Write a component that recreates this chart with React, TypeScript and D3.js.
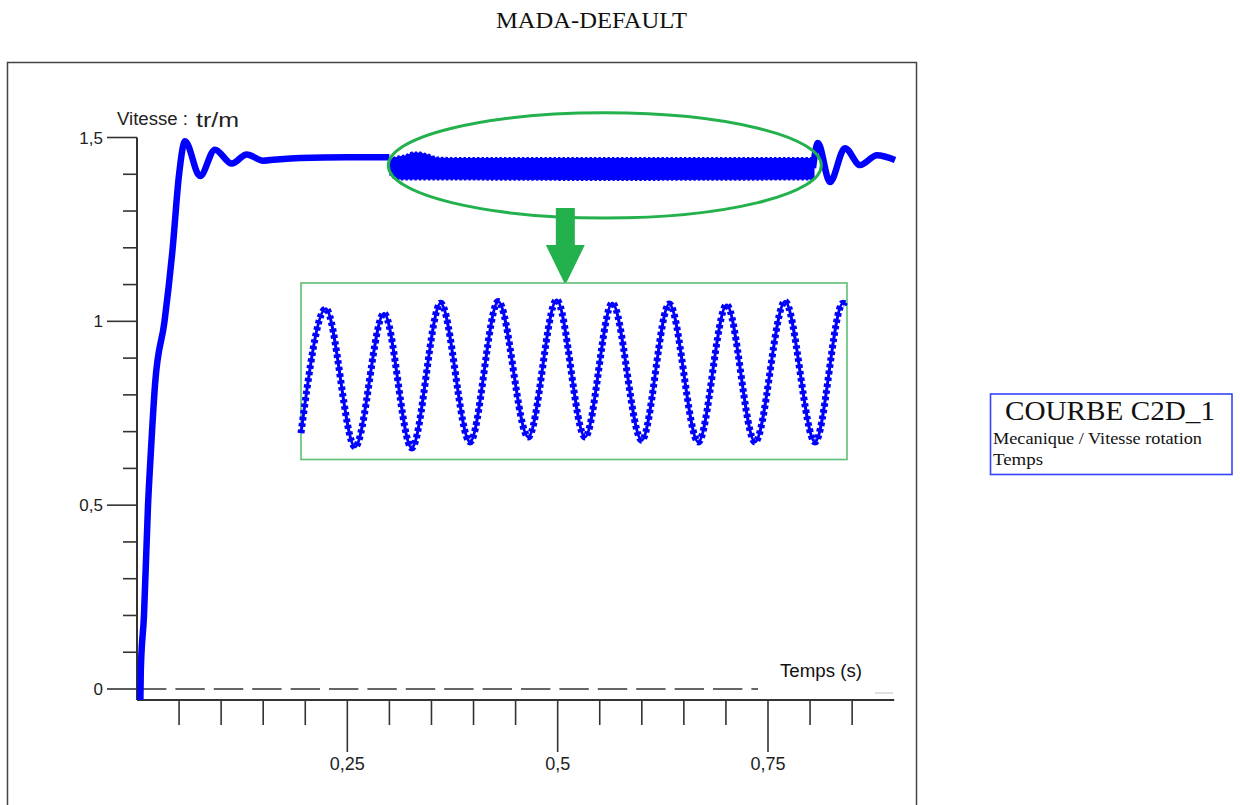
import React from "react";
import * as d3 from "d3";

// ---------- data ----------
const chartTitle = "MADA-DEFAULT";

// speed response (s, tr/m) : start-up and settling, up to the start of the disturbance
const mainT = [0.004, 0.0045, 0.0083, 0.0131, 0.0166, 0.0215, 0.0327, 0.0422, 0.05, 0.0571, 0.0749, 0.0927, 0.1126, 0.1304, 0.1498, 0.17, 0.194, 0.25, 0.3];
const mainV = [-0.03, 0.05, 0.2, 0.5, 0.65, 0.83, 1.0, 1.194, 1.4, 1.49, 1.395, 1.467, 1.429, 1.454, 1.437, 1.441, 1.444, 1.446, 1.446];

// dense oscillation band (envelope) during the disturbance
const bandT = [0.3, 0.3019, 0.3102, 0.3186, 0.3269, 0.3364, 0.3459, 0.3554, 0.372, 0.5503, 0.8023, 0.8047];
const bandUpper = [1.446, 1.4415, 1.447, 1.4497, 1.4578, 1.4578, 1.4524, 1.4442, 1.4429, 1.4429, 1.4429, 1.4429];
const bandLower = [1.44, 1.3953, 1.3871, 1.3871, 1.3871, 1.3871, 1.3871, 1.3871, 1.3871, 1.3857, 1.3871, 1.39];

// after the disturbance
const tailT = [0.8035, 0.8093, 0.8236, 0.8415, 0.8594, 0.8796, 0.901];
const tailV = [1.417, 1.485, 1.379, 1.471, 1.425, 1.452, 1.439];

// zoomed detail (inset)
const insetT = [0.5, 0.50215, 0.5047, 0.50722, 0.50963, 0.51215, 0.5147, 0.51716, 0.51977, 0.52224, 0.52471, 0.52708, 0.52964, 0.53204, 0.53456, 0.53703, 0.5395, 0.54211, 0.54472, 0.54715, 0.5475];
const insetV = [1.4026, 1.4377, 1.3987, 1.4364, 1.3984, 1.4393, 1.4001, 1.4398, 1.4015, 1.4402, 1.4015, 1.4393, 1.4006, 1.4391, 1.4001, 1.4388, 1.4001, 1.4398, 1.4001, 1.4393, 1.4388];

// axes
const yMajorTicks = [0, 0.5, 1, 1.5];
const yMajorLabels = ["0", "0,5", "1", "1,5"];
const yMinorTicks = [0.1, 0.2, 0.3, 0.4, 0.6, 0.7, 0.8, 0.9, 1.1, 1.2, 1.3, 1.4];
const xMajorTicks = [0.25, 0.5, 0.75];
const xMajorLabels = ["0,25", "0,5", "0,75"];
const xMinorTicks = [0.05, 0.1, 0.15, 0.2, 0.3, 0.35, 0.4, 0.45, 0.55, 0.6, 0.65, 0.7, 0.8, 0.85];

const yAxisLabel = "Vitesse :";
const yAxisUnit = "tr/m";
const xAxisLabel = "Temps (s)";
const legendTitle = "COURBE C2D_1";
const legendLine1 = "Mecanique / Vitesse rotation";
const legendLine2 = "Temps";

// ---------- layout ----------
const W = 1240;
const H = 805;
const BLUE = "#0000ff";
const GREEN = "#22b14c";
const AXIS = "#333";

export default function App() {
  const x = d3.scaleLinear().domain([0, 0.9]).range([137, 894.2]);
  const y = d3.scaleLinear().domain([0, 1.5]).range([689, 137.5]);

  const line = d3
    .line<number>()
    .x((_, i) => x(mainT[i]))
    .y((d) => y(d))
    .curve(d3.curveMonotoneX);
  const tailLine = d3
    .line<number>()
    .x((_, i) => x(tailT[i]))
    .y((d) => y(d))
    .curve(d3.curveMonotoneX);
  const band = d3
    .area<number>()
    .x((_, i) => x(bandT[i]))
    .y0((_, i) => y(bandLower[i]))
    .y1((d) => y(d))
    .curve(d3.curveLinear);
  const bandEdgeUp = d3
    .line<number>()
    .x((_, i) => x(bandT[i]))
    .y((d) => y(d));
  const bandEdgeLow = d3
    .line<number>()
    .x((_, i) => x(bandT[i]))
    .y((d) => y(d));

  // inset panel
  const inset = { x0: 301, x1: 847, y0: 283, y1: 459.5 };
  const ix = d3.scaleLinear().domain([0.5, 0.5475]).range([inset.x0, inset.x1]);
  const iy = d3.scaleLinear().domain([1.395, 1.445]).range([460, 283]);
  const insetPath = d3
    .line<number>()
    .x((_, i) => ix(insetT[i]))
    .y((d) => iy(d))
    .curve(d3.curveMonotoneX)(insetV) as string;

  // highlight ellipse in data coordinates
  const ex0 = x(0.2987), ex1 = x(0.8134);
  const ey0 = y(1.567), ey1 = y(1.281);
  const ecx = (ex0 + ex1) / 2, ecy = (ey0 + ey1) / 2;

  const arrowX = (ex0 + ex1) / 2 - 39.5;

  const sans = "'Liberation Sans', Arial, sans-serif";
  const serif = "'Liberation Serif', 'Times New Roman', serif";

  return (
    <svg
      width={W}
      height={H}
      style={{ position: "absolute", left: 0, top: 0, display: "block", background: "#fff" }}
    >
      <rect x={0} y={0} width={W} height={H} fill="#fff" />
      {/* title */}
      <text x={591.5} y={28} textAnchor="middle" fontFamily={serif} fontSize={24} fill="#111" textLength={191} lengthAdjust="spacingAndGlyphs">
        {chartTitle}
      </text>

      {/* frame */}
      <rect x={7.5} y={62.5} width={909} height={780} fill="none" stroke="#444" strokeWidth={1.5} />

      {/* y axis */}
      <line x1={137} x2={137} y1={y(1.5)} y2={700} stroke={AXIS} strokeWidth={2} />
      {yMinorTicks.map((t) => (
        <line key={"ym" + t} x1={123} x2={137} y1={y(t)} y2={y(t)} stroke={AXIS} strokeWidth={1.6} />
      ))}
      {yMajorTicks.map((t, i) => (
        <g key={"yM" + t}>
          <line x1={107} x2={137} y1={y(t)} y2={y(t)} stroke={AXIS} strokeWidth={1.6} />
          <text x={103} y={y(t) + 6} textAnchor="end" fontFamily={sans} fontSize={17} fill="#222">
            {yMajorLabels[i]}
          </text>
        </g>
      ))}

      {/* x axis */}
      <line x1={137} x2={894.2} y1={700} y2={700} stroke={AXIS} strokeWidth={2} />
      {xMinorTicks.map((t) => (
        <line key={"xm" + t} x1={x(t)} x2={x(t)} y1={700} y2={725} stroke={AXIS} strokeWidth={1.6} />
      ))}
      {xMajorTicks.map((t, i) => (
        <g key={"xM" + t}>
          <line x1={x(t)} x2={x(t)} y1={700} y2={752} stroke={AXIS} strokeWidth={1.6} />
          <text x={x(t)} y={770} textAnchor="middle" fontFamily={sans} fontSize={18} fill="#222">
            {xMajorLabels[i]}
          </text>
        </g>
      ))}

      {/* zero dashed line */}
      <line x1={137} x2={758} y1={y(0)} y2={y(0)} stroke={AXIS} strokeWidth={1.6} strokeDasharray="29.4 9" />
      <line x1={875} x2={893} y1={693} y2={693} stroke="#ccc" strokeWidth={1.2} />

      {/* axis titles */}
      <text x={117} y={125} fontFamily={sans} fontSize={18} fill="#222" textLength={71} lengthAdjust="spacingAndGlyphs">
        {yAxisLabel}
      </text>
      <text x={196} y={127} fontFamily={sans} fontSize={21} fill="#222" textLength={43} lengthAdjust="spacingAndGlyphs">
        {yAxisUnit}
      </text>
      <text x={780} y={677} fontFamily={sans} fontSize={18} fill="#111" textLength={82} lengthAdjust="spacingAndGlyphs">
        {xAxisLabel}
      </text>

      {/* curve */}
      <path d={band(bandUpper) as string} fill={BLUE} stroke={BLUE} strokeWidth={1} />
      <path d={bandEdgeUp(bandUpper) as string} fill="none" stroke={BLUE} strokeWidth={3} strokeDasharray="2.5 2" />
      <path d={bandEdgeLow(bandLower) as string} fill="none" stroke={BLUE} strokeWidth={3} strokeDasharray="2.5 2" />
      <path d={line(mainV) as string} fill="none" stroke={BLUE} strokeWidth={6.5} strokeLinejoin="round" />
      <path d={tailLine(tailV) as string} fill="none" stroke={BLUE} strokeWidth={6.5} strokeLinejoin="round" />

      {/* highlight ellipse + arrow */}
      <ellipse cx={ecx} cy={ecy} rx={(ex1 - ex0) / 2} ry={(ey1 - ey0) / 2} fill="none" stroke={GREEN} strokeWidth={3} />
      <rect x={arrowX - 9.5} y={208} width={19} height={38} fill={GREEN} />
      <polygon points={`${arrowX - 19.5},245 ${arrowX + 19.5},245 ${arrowX},285`} fill={GREEN} />

      {/* inset */}
      <rect x={inset.x0} y={inset.y0} width={inset.x1 - inset.x0} height={inset.y1 - inset.y0} fill="#fff" stroke="#5cbf73" strokeWidth={1.6} />
      <path d={insetPath} fill="none" stroke={BLUE} strokeWidth={3} />
      <path d={insetPath} fill="none" stroke={BLUE} strokeWidth={7} strokeDasharray="3.5 3" />

      {/* legend */}
      <rect x={990.5} y={394} width={241.5} height={80.5} fill="#fff" stroke="#3344ff" strokeWidth={1.6} />
      <text x={1005} y={420} fontFamily={serif} fontSize={27} fill="#111" textLength={210} lengthAdjust="spacingAndGlyphs">
        {legendTitle}
      </text>
      <text x={993} y={444} fontFamily={serif} fontSize={17} fill="#111" textLength={209} lengthAdjust="spacingAndGlyphs">
        {legendLine1}
      </text>
      <text x={993} y={465} fontFamily={serif} fontSize={17} fill="#111" textLength={50} lengthAdjust="spacingAndGlyphs">
        {legendLine2}
      </text>
    </svg>
  );
}
